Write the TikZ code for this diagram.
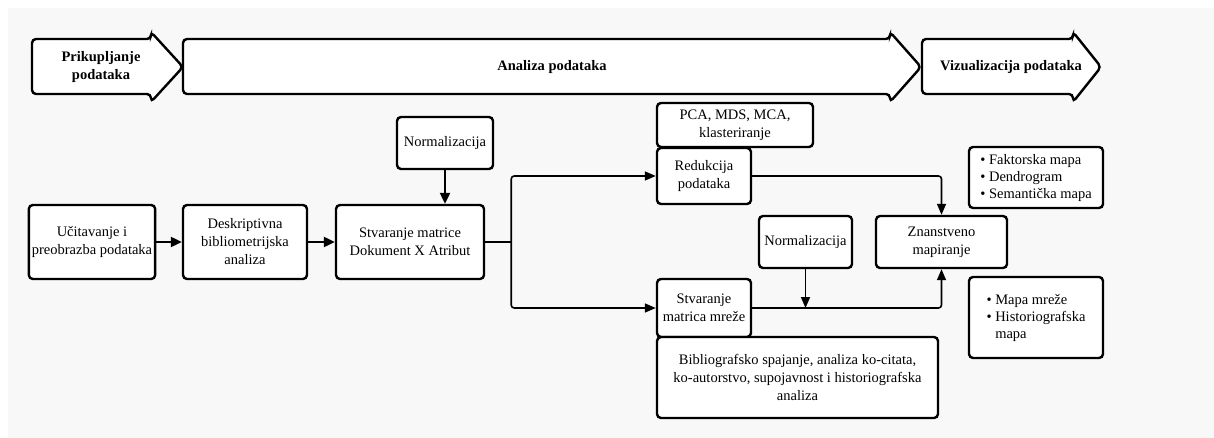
\documentclass[tikz,border=0pt]{standalone}
\usepackage{fontspec}
\setmainfont{Liberation Serif}
\usetikzlibrary{arrows.meta}
\definecolor{bgc}{HTML}{F8F8F8}
\tikzset{
  box/.style={draw=black, line width=2.4pt, rounded corners=4pt, fill=white, align=center, inner sep=3pt,
    font=\fontsize{14.5}{18}\selectfont},
  banner/.style={draw=black, line width=2.4pt, rounded corners=4pt, fill=white},
  bannertext/.style={font=\fontsize{14.5}{18}\selectfont\bfseries, align=center},
  thick arrow/.style={line width=2.2pt, -{Triangle[length=11pt,width=10pt]}},
  thin arrow/.style={line width=1.6pt, rounded corners=3pt, -{Triangle[length=11pt,width=9pt]}},
  thin line/.style={line width=1.6pt, rounded corners=3pt},
}
\begin{document}
\begin{tikzpicture}[x=1pt,y=-1pt]
\useasboundingbox (0,0) rectangle (1214,438);
\fill[white] (0,0) rectangle (1214,438);
\fill[bgc] (8,8) rectangle (1214,438);
% banners
\draw[banner] (32,39) -- (151,39) -- (151,32) -- (183,67) -- (151,102) -- (151,94) -- (32,94) -- cycle;
\node[bannertext] (b1) at (101,67) {Prikupljanje\\podataka};
\draw[banner] (183,39) -- (890,39) -- (890,32) -- (921,67) -- (890,102) -- (890,94) -- (183,94) -- cycle;
\node[bannertext] (b2) at (552,67) {Analiza podataka};
\draw[banner] (922,39) -- (1073,39) -- (1073,32) -- (1101,67) -- (1073,102) -- (1073,94) -- (922,94) -- cycle;
\node[bannertext] (b3) at (1011,67) {Vizualizacija podataka};
% boxes
\node[box, minimum width=124pt, minimum height=74pt] (uc) at (92,242) {Učitavanje i\\preobrazba podataka};
\node[box, minimum width=124pt, minimum height=74pt] (desk) at (245,242) {Deskriptivna\\bibliometrijska\\analiza};
\node[box, minimum width=148pt, minimum height=74pt] (stv) at (410,242) {Stvaranje matrice\\Dokument X Atribut};
\node[box, minimum width=96pt, minimum height=52pt] (norm1) at (445,143) {Normalizacija};
\node[box, minimum width=156pt, minimum height=44pt] (pca) at (735,125) {PCA, MDS, MCA,\\klasteriranje};
\node[box, minimum width=94pt, minimum height=56pt] (red) at (704,176) {Redukcija\\podataka};
\node[box, minimum width=134pt, minimum height=61pt, align=left] (fak) at (1036,177.5)
  {\begin{tabular}{@{}l@{\ }l@{}}\textbullet & Faktorska mapa\\[-1pt] \textbullet & Dendrogram\\[-1pt] \textbullet & Semantička mapa\end{tabular}};
\node[box, minimum width=93pt, minimum height=52pt] (norm2) at (805.5,242) {Normalizacija};
\node[box, minimum width=131pt, minimum height=52pt] (zn) at (941.5,242) {Znanstveno\\mapiranje};
\node[box, minimum width=94pt, minimum height=58pt] (mr) at (704,308) {Stvaranje\\matrica mreže};
\node[box, minimum width=281pt, minimum height=81pt] (bib) at (797.5,377.5) {Bibliografsko spajanje, analiza ko-citata,\\ko-autorstvo, supojavnost i historiografska\\analiza};
\node[box, minimum width=134pt, minimum height=81pt, align=left] (mapa) at (1036,317.5)
  {\begin{tabular}{@{}l@{\ }l@{}}\textbullet & Mapa mreže\\[-1pt] \textbullet & Historiografska\\[-1pt] & mapa\end{tabular}};
% connectors
\draw[thick arrow] (uc.east) -- (desk.west);
\draw[thick arrow] (desk.east) -- (stv.west);
\draw[thick arrow] (norm1.south) -- (norm1.south |- stv.north);
\coordinate (split) at ([xshift=26pt]stv.east);
\draw[thin line] (stv.east) -- (split);
\draw[thin arrow] (split) |- (red.west);
\draw[thin arrow] (split) |- (mr.west);
\draw[thin arrow] (red.east) -| (zn.north);
\draw[thin arrow] (mr.east) -| (zn.south);
\draw[thin arrow, rounded corners=0pt] (norm2.south) -- (norm2.south |- mr.east);
\end{tikzpicture}
\end{document}
